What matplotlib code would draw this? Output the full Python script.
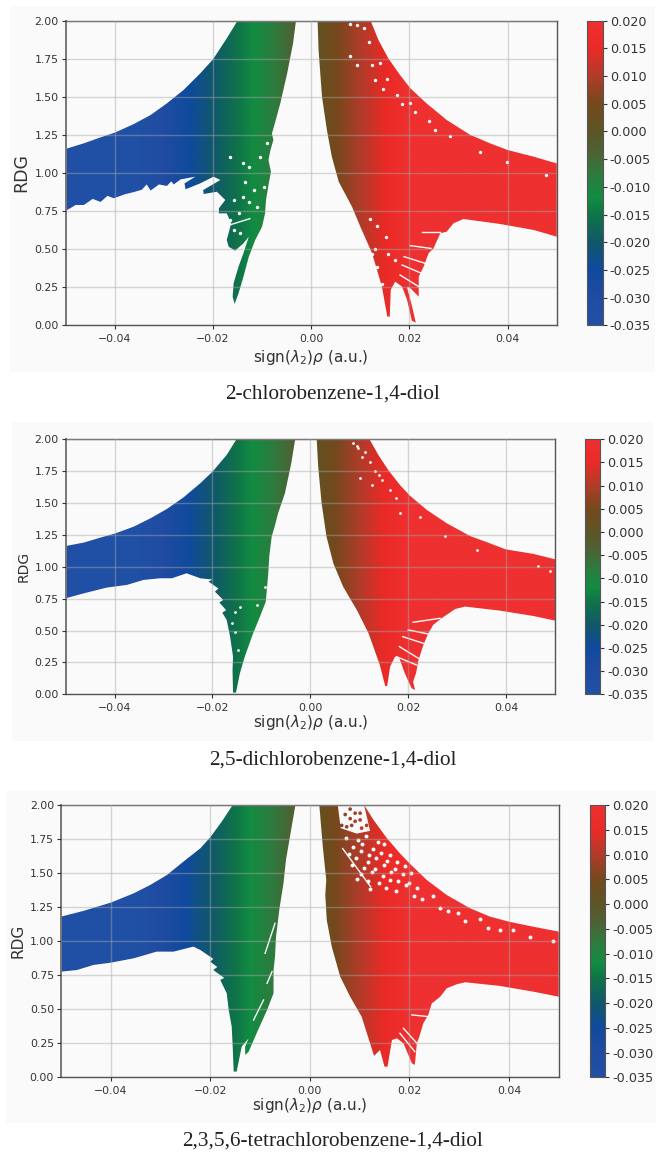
"""Three RDG vs sign(lambda2)*rho panels stacked, each with its own colorbar."""
import numpy as np
import matplotlib
matplotlib.use("Agg")
import matplotlib.pyplot as plt
from matplotlib.colors import LinearSegmentedColormap, Normalize
from matplotlib.cm import ScalarMappable
from matplotlib.patches import PathPatch, Rectangle
from matplotlib.path import Path

W, H = 656, 1153
BG = "#fafafa"

CMAP_STOPS = [-0.035, -0.030, -0.025, -0.020, -0.015, -0.012, -0.008, -0.004, 0.0, 0.005, 0.010, 0.015, 0.020]
CMAP_COLORS = ["#2050a5", "#1f4ca2", "#104a9e", "#10586a", "#0f7448", "#128c42", "#2b7d3f", "#4c6334", "#5c5526",
               "#74491c", "#b03c2a", "#ea2a26", "#ee3030"]

TICKS_X = [-0.04, -0.02, 0.00, 0.02, 0.04]
TICKS_Y = [0.00, 0.25, 0.50, 0.75, 1.00, 1.25, 1.50, 1.75, 2.00]
TICKS_CB = [-0.035, -0.030, -0.025, -0.020, -0.015, -0.010, -0.005, 0.000, 0.005, 0.010, 0.015, 0.020]

TITLES = ["2-chlorobenzene-1,4-diol", "2,5-dichlorobenzene-1,4-diol", "2,3,5,6-tetrachlorobenzene-1,4-diol"]

# envelope of the scatter (x, RDG)
LEFT_1 = [(-.05, 1.158), (-.0463, 1.195), (-.0429, 1.234), (-.04, 1.265), (-.0361, 1.322), (-.0327, 1.381),
          (-.0294, 1.457), (-.026, 1.545), (-.0226, 1.654), (-.02, 1.746), (-.0172, 1.884), (-.015, 2.0),
          (-.0031, 2.0), (-.0037, 1.851), (-.0049, 1.654), (-.0063, 1.457), (-.0075, 1.315), (-.008, 1.26),
          (-.0077, 1.217), (-.0083, 1.151), (-.0087, 1.085), (-.0082, 1.009), (-.0087, .921), (-.0092, .823),
          (-.0094, .735), (-.01, .648), (-.0114, .56), (-.0127, .451), (-.0138, .319), (-.0148, .21),
          (-.0156, .14), (-.016, .188), (-.0158, .276), (-.0148, .385), (-.0138, .473), (-.0127, .582),
          (-.0138, .538), (-.0155, .49), (-.0168, .516), (-.0172, .56), (-.0163, .67), (-.0172, .735),
          (-.0188, .735), (-.0188, .768), (-.0175, .823), (-.0192, .877), (-.0219, .862), (-.022, .888),
          (-.0185, .954), (-.0199, .976), (-.0226, .932), (-.0256, .893), (-.0258, .932), (-.0236, .976),
          (-.0266, .958), (-.028, .925), (-.0285, .945), (-.0294, .915), (-.031, .925), (-.0327, .885),
          (-.0335, .925), (-.0345, .89), (-.0361, .875), (-.038, .86), (-.0402, .834), (-.0415, .85),
          (-.0429, .81), (-.0445, .83), (-.0463, .79), (-.048, .79), (-.049, .77), (-.05, .753)]
RIGHT_1 = [(.0013, 2.0), (.0121, 2.0), (.0137, 1.873), (.0157, 1.753), (.0181, 1.643), (.0202, 1.556),
           (.0235, 1.457), (.0276, 1.348), (.0324, 1.25), (.0364, 1.195), (.04, 1.151), (.0453, 1.107),
           (.05, 1.063), (.05, .582), (.0453, .626), (.0385, .665), (.031, .698), (.029, .67), (.0276, .615),
           (.0263, .604), (.0249, .505), (.0239, .473), (.0229, .385), (.0219, .319), (.0219, .188),
           (.02, .25), (.0195, .25), (.0205, .13), (.0213, .018), (.0205, .03), (.0195, .17), (.0185, .254),
           (.0171, .287), (.0162, .232), (.016, .057), (.0155, .057), (.0144, .254), (.0124, .473), (.01, .648),
           (.0083, .779), (.0056, .943), (.0042, 1.107), (.0032, 1.282), (.0022, 1.501), (.0015, 1.807)]
SLITS_1 = [((.0202, .523), (.0244, .505)), ((.0189, .451), (.0232, .407)), ((.0185, .396), (.0225, .341)),
           ((.0181, .33), (.0219, .254)), ((.0225, .615), (.0263, .615)), ((-.0165, .66), (-.0125, .70))]
SPECKS_1 = [(.0079, 1.98), (.0093, 1.97), (.0107, 1.95), (.0117, 1.86), (.0079, 1.77), (.0093, 1.71), (.0124, 1.71),
            (.0141, 1.72), (.013, 1.61), (.0154, 1.62), (.0147, 1.55), (.0174, 1.51), (.0185, 1.45), (.0202, 1.46),
            (.0212, 1.40), (.024, 1.34), (.0253, 1.28), (.0283, 1.24), (.0344, 1.14), (.0398, 1.07), (.0479, .99),
            (.0120, .70), (.0134, .65), (.0153, .58), (.0130, .50), (.0124, .47), (.0157, .47), (.0134, .38),
            (.0144, .27), (.0171, .43), (-.0138, 1.063), (-.0127, 1.042), (-.0165, 1.107), (-.0134, .943),
            (-.0117, .888), (-.0158, .823), (-.0127, .812), (-.0097, .91), (-.009, 1.195), (-.0104, 1.107),
            (-.0158, .626), (-.0144, .604), (-.0148, .735), (-.0165, .691), (-.0111, .779), (-.0138, .845)]

LEFT_2 = [(-.05, 1.163), (-.0463, 1.19), (-.0429, 1.229), (-.04, 1.26), (-.0361, 1.315), (-.0327, 1.38),
          (-.0293, 1.454), (-.0259, 1.545), (-.0225, 1.655), (-.02, 1.746), (-.0171, 1.877), (-.0151, 2.0),
          (-.0031, 2.0), (-.0039, 1.812), (-.0052, 1.576), (-.0066, 1.42), (-.0073, 1.315), (-.0079, 1.237),
          (-.0084, 1.08), (-.0086, .949), (-.0091, .727), (-.0103, .609), (-.0117, .478), (-.0134, .295),
          (-.0144, .165), (-.0152, .013), (-.0158, .013), (-.0159, .191), (-.0158, .295), (-.0164, .452),
          (-.0171, .583), (-.018, .64), (-.0172, .66), (-.0186, .72), (-.0178, .74), (-.0195, .805),
          (-.0188, .83), (-.0208, .884), (-.02, .90), (-.0225, .91), (-.0253, .949), (-.0283, .91),
          (-.0307, .91), (-.0341, .897), (-.0375, .858), (-.0416, .837), (-.0463, .792), (-.05, .753)]
RIGHT_2 = [(.0013, 2.0), (.0121, 2.0), (.0139, 1.877), (.0159, 1.76), (.0183, 1.642), (.0204, 1.556),
           (.0238, 1.446), (.0279, 1.341), (.0326, 1.242), (.0367, 1.184), (.0399, 1.137), (.0456, 1.101),
           (.05, 1.059), (.05, .578), (.0456, .614), (.0388, .656), (.0316, .688), (.0296, .669), (.0268, .596),
           (.0251, .544), (.0241, .478), (.0231, .387), (.0221, .269), (.0216, .165), (.021, .099), (.0214, .034),
           (.0207, .047), (.0193, .165), (.0182, .282), (.0173, .295), (.0163, .217), (.0157, .065), (.0153, .065),
           (.0142, .23), (.0119, .478), (.0095, .661), (.0067, .844), (.0047, 1.027), (.0033, 1.237), (.0023, 1.498),
           (.0016, 1.786)]
SLITS_2 = [((.021, .565), (.0265, .596)), ((.02, .505), (.0241, .473)), ((.0189, .452), (.0231, .4)),
           ((.0182, .374), (.0221, .282)), ((.0176, .295), (.0217, .23))]
SPECKS_2 = [(.0088, 1.97), (.0098, 1.93), (.0105, 1.86), (.0122, 1.82), (.0132, 1.75), (.0102, 1.70), (.0125, 1.64),
            (.0146, 1.68), (.0163, 1.60), (.0176, 1.54), (.0183, 1.42), (.0224, 1.39), (.0275, 1.24), (.0340, 1.13),
            (.0490, .97), (.0466, 1.01), (.0095, 1.95), (.0112, 1.90), (.0140, 1.72), (-.0154, .648), (-.0161, .557),
            (-.0144, .688), (-.011, .70), (-.0093, .844), (-.0154, .49), (-.0147, .348)]

LEFT_3 = [(-.05, 1.18), (-.0455, 1.222), (-.04, 1.283), (-.0354, 1.351), (-.0321, 1.412), (-.0287, 1.486),
          (-.0254, 1.584), (-.022, 1.682), (-.02, 1.763), (-.0177, 1.878), (-.0155, 2.0), (-.0029, 2.0),
          (-.004, 1.767), (-.0048, 1.596), (-.0053, 1.425), (-.0061, 1.241), (-.0068, 1.033), (-.007, .886),
          (-.0073, .788), (-.0073, .617), (-.0086, .494), (-.0107, .323), (-.0123, .188), (-.013, .164),
          (-.013, .225), (-.0123, .286), (-.0137, .225), (-.0147, .042), (-.0153, .042), (-.0155, .225),
          (-.0157, .372), (-.0163, .494), (-.0167, .617), (-.018, .715), (-.0172, .73), (-.0194, .788),
          (-.0186, .81), (-.02, .849), (-.0194, .87), (-.022, .935), (-.0234, .96), (-.0274, .923), (-.0308, .923),
          (-.0354, .874), (-.04, .842), (-.0435, .825), (-.0468, .788), (-.05, .776)]
RIGHT_3 = [(.0019, 2.0), (.0056, 2.0), (.0062, 1.83), (.0094, 1.79), (.0121, 1.81), (.0109, 2.0), (.0128, 1.89),
           (.0155, 1.755), (.0181, 1.645), (.02, 1.572), (.0235, 1.449), (.0275, 1.339), (.0322, 1.241),
           (.0362, 1.18), (.04, 1.143), (.0449, 1.106), (.05, 1.07), (.05, .592), (.0449, .629), (.0382, .671),
           (.0312, .698), (.0295, .683), (.0275, .654), (.0262, .592), (.0245, .543), (.0238, .458), (.0228, .397),
           (.022, .299), (.0215, .25), (.0211, .091), (.0205, .103), (.0188, .25), (.0175, .286), (.0165, .274),
           (.0156, .078), (.015, .078), (.0141, .201), (.0129, .157), (.0121, .25), (.0104, .446), (.0081, .592),
           (.0061, .739), (.0044, .96), (.0034, 1.155), (.0031, 1.339), (.0033, 1.449), (.0026, 1.694)]
SLITS_3 = [((.0066, 1.68), (.0122, 1.40)), ((.0205, .458), (.0238, .446)), ((.0188, .36), (.0215, .25)),
           ((.0181, .323), (.0211, .188)), ((-.0113, .421), (-.0093, .568)), ((-.0086, .69), (-.0076, .776)),
           ((-.009, .91), (-.007, 1.131))]
SPECKS_3 = [(.0072, 1.76), (.0097, 1.74), (.0113, 1.77), (.0136, 1.73), (.0087, 1.69), (.0104, 1.71), (.0127, 1.68),
            (.0148, 1.71), (.0079, 1.64), (.0102, 1.66), (.0118, 1.63), (.0142, 1.65), (.0161, 1.63), (.0093, 1.61),
            (.0116, 1.58), (.0133, 1.61), (.0156, 1.59), (.0176, 1.58), (.0084, 1.56), (.0108, 1.54), (.0131, 1.53),
            (.0148, 1.56), (.0171, 1.53), (.0192, 1.55), (.0102, 1.49), (.0124, 1.51), (.0146, 1.48), (.0163, 1.51),
            (.0187, 1.49), (.0203, 1.50), (.0094, 1.46), (.0117, 1.44), (.0138, 1.43), (.0161, 1.45), (.0178, 1.44),
            (.0199, 1.43), (.0121, 1.38), (.0152, 1.39), (.0173, 1.37), (.0194, 1.41), (.0216, 1.39), (.0209, 1.33),
            (.0226, 1.31), (.0248, 1.33), (.0262, 1.24), (.0277, 1.22), (.0298, 1.21), (.0312, 1.15), (.0341, 1.16),
            (.0358, 1.10), (.0382, 1.08), (.0408, 1.08), (.0443, 1.03), (.0488, 1.00)]
DOTS_3 = [(.0081, 1.97), (.0091, 1.94), (.0101, 1.94), (.0071, 1.93), (.0081, 1.90), (.0091, 1.88), (.0101, 1.89),
          (.0114, 1.85), (.0064, 1.85), (.0074, 1.84), (.0084, 1.85), (.0104, 1.83)]

# pixel boxes of the picture: panel background, axes, colorbar (left, top, right, bottom)
PANEL_BOXES = [(10, 6, 655, 372), (12, 422, 653, 741), (6, 791, 656, 1123)]
AXES_BOXES = [(65.7, 20.7, 556.7, 325.3), (65.7, 439.3, 555, 694.3), (61, 805, 558.7, 1077.3)]
CBAR_BOXES = [(586.7, 20.7, 602.7, 325.3), (585, 439.3, 600, 694.3), (589.7, 805, 605, 1077.3)]
TITLE_Y = [394, 760, 1141]
RDG_SIZE = [12.5, 10, 11]
RDG_PAD = [3, 3, 3]
XLABEL_PAD = [3.5, 0, 0.5]
SPECK_SIZE = [6, 4, 8]

PANELS = [(LEFT_1, RIGHT_1, SLITS_1, SPECKS_1, []),
          (LEFT_2, RIGHT_2, SLITS_2, SPECKS_2, []),
          (LEFT_3, RIGHT_3, SLITS_3, SPECKS_3, DOTS_3)]

cmap = LinearSegmentedColormap.from_list(
    "rdg", [((s - CMAP_STOPS[0]) / (CMAP_STOPS[-1] - CMAP_STOPS[0]), c) for s, c in zip(CMAP_STOPS, CMAP_COLORS)])
norm = Normalize(CMAP_STOPS[0], CMAP_STOPS[-1])


def box_axes(fig, box):
    left, top, right, bottom = box
    return fig.add_axes([left / W, 1 - bottom / H, (right - left) / W, (bottom - top) / H])


def draw_wing(ax, outline):
    grad = np.linspace(-0.05, 0.05, 800).reshape(1, -1)
    im = ax.imshow(grad, extent=(-0.05, 0.05, 0, 2), aspect="auto", cmap=cmap, norm=norm, zorder=1,
                   interpolation="bilinear")
    patch = PathPatch(Path(outline + [outline[0]], closed=True), transform=ax.transData, fc="none", ec="none")
    ax.add_patch(patch)
    im.set_clip_path(patch)


def draw_panel(fig, i):
    left, right, slits, specks, dots = PANELS[i]
    px0, py0, px1, py1 = PANEL_BOXES[i]
    fig.add_artist(Rectangle((px0 / W, 1 - py1 / H), (px1 - px0) / W, (py1 - py0) / H, transform=fig.transFigure,
                             fc=BG, ec="none", zorder=-5))

    ax = box_axes(fig, AXES_BOXES[i])
    ax.set_facecolor(BG)
    draw_wing(ax, left)
    draw_wing(ax, right)
    for a, b in slits:
        ax.plot([a[0], b[0]], [a[1], b[1]], color=BG, lw=1.0, zorder=2)
    ax.scatter(*zip(*specks), s=SPECK_SIZE[i], color=BG, lw=0, zorder=2)
    if dots:
        ax.scatter(*zip(*dots), s=7, c=[d[0] for d in dots], cmap=cmap, norm=norm, lw=0, zorder=2)

    ax.set_xlim(-0.05, 0.05)
    ax.set_ylim(0, 2)
    ax.set_xticks(TICKS_X)
    ax.set_xticklabels([f"{t:.2f}".replace("-", "\u2212") for t in TICKS_X])
    ax.set_yticks(TICKS_Y)
    ax.tick_params(axis="x", labelsize=7.8, colors="#333333", length=3, width=0.8, pad=3)
    ax.tick_params(axis="y", labelsize=7.8, colors="#333333", length=3, width=0.8, pad=2)
    ax.grid(True, color="#a8a8a8", lw=1.0, alpha=0.45, zorder=3)
    ax.set_axisbelow(False)
    for s in ax.spines.values():
        s.set_color("#555555")
        s.set_linewidth(1.0)
    ax.spines["left"].set_color("#777777")
    ax.spines["left"].set_linewidth(1.4)
    ax.set_xlabel(r"sign($\lambda_2$)$\rho$ (a.u.)", fontsize=11, color="#333333", labelpad=XLABEL_PAD[i])
    ax.set_ylabel("RDG", fontsize=RDG_SIZE[i], color="#333333", labelpad=RDG_PAD[i])

    cax = box_axes(fig, CBAR_BOXES[i])
    cb = fig.colorbar(ScalarMappable(norm=norm, cmap=cmap), cax=cax)
    cb.set_ticks(TICKS_CB)
    cb.set_ticklabels([f"{t:.3f}" for t in TICKS_CB])
    cb.ax.tick_params(labelsize=9.2, colors="#333333", length=3, width=0.8, pad=2)
    cb.outline.set_edgecolor("#555555")
    cb.outline.set_linewidth(0.8)

    fig.text(333 / W, 1 - TITLE_Y[i] / H, TITLES[i], ha="center", va="center", fontsize=15.3,
             family="Liberation Serif", color="#222222")


def main():
    fig = plt.figure(figsize=(W / 100, H / 100), dpi=100, facecolor="white")
    for i in range(3):
        draw_panel(fig, i)
    fig.savefig("out.png", dpi=100, facecolor="white")


if __name__ == "__main__":
    main()
